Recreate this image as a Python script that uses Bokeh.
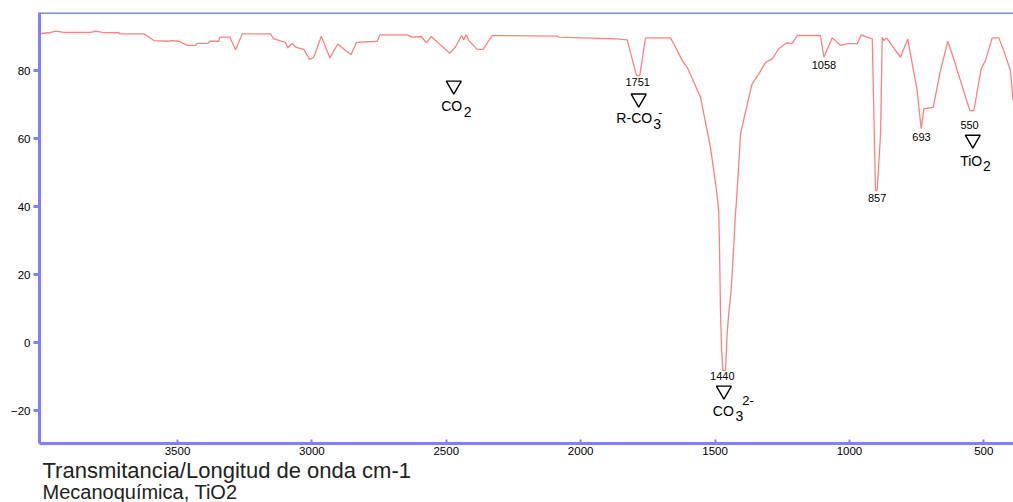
from bokeh.plotting import figure
from bokeh.models import Range1d, FixedTicker, Span, Title
from bokeh.core.properties import value
from bokeh.embed import file_html
from bokeh.resources import INLINE

# ---- data ----
wavenumber = [4016, 3979, 3954, 3923, 3824, 3805, 3780, 3718, 3715, 3625, 3588, 3538, 3520, 3495,
              3464, 3433, 3427, 3387, 3380, 3346, 3343, 3305, 3284, 3259, 3154, 3142, 3098, 3090,
              3073, 3061, 3030, 3008, 2993, 2965, 2933, 2918, 2903, 2875, 2854, 2834, 2757, 2747,
              2645, 2627, 2593, 2574, 2556, 2487, 2466, 2443, 2435, 2426, 2416, 2385, 2363, 2329,
              2087, 2081, 1864, 1827, 1792, 1780, 1759, 1666, 1647, 1622, 1604, 1579, 1554, 1542,
              1517, 1498, 1490, 1486, 1483, 1480, 1476, 1471, 1461, 1455, 1449, 1440, 1432, 1424,
              1420, 1405, 1380, 1362, 1337, 1312, 1287, 1263, 1234, 1213, 1194, 1108, 1095, 1064,
              1033, 1008, 971, 956, 915, 903, 897, 884, 878, 872, 862, 810, 783, 748, 733, 723,
              688, 664, 634, 612, 552, 537, 510, 494, 469, 444, 426, 401, 391]
transmittance = [90.8, 91.1, 91.6, 91.2, 91.2, 91.6, 91.2, 91.1, 90.8, 90.8, 88.8, 88.6, 88.8, 88.6,
                 87.4, 87.4, 88.0, 88.0, 88.6, 88.6, 89.8, 89.8, 86.1, 90.8, 90.8, 89.3, 88.3, 86.6,
                 88.0, 86.9, 86.2, 83.2, 83.9, 90.1, 83.7, 85.9, 87.8, 85.9, 84.7, 88.3, 88.6, 90.5,
                 90.5, 89.8, 90.0, 88.1, 90.0, 85.1, 86.9, 90.3, 89.0, 90.5, 88.8, 86.2, 86.2, 90.3,
                 90.1, 89.8, 89.3, 89.0, 78.5, 78.5, 89.6, 89.6, 86.9, 82.9, 81.0, 76.6, 72.1, 67.3,
                 57.4, 46.7, 41.8, 37.9, 26.2, 10.4, -1.4, -8.2, -8.2, 2.6, 8.5, 15.3, 26.2, 37.9,
                 41.8, 61.4, 70.2, 76.1, 79.0, 82.4, 83.4, 86.4, 88.1, 88.0, 90.3, 90.3, 83.9, 89.6,
                 87.4, 87.9, 87.9, 90.5, 89.3, 44.7, 44.7, 61.4, 89.8, 88.8, 89.6, 83.9, 89.3, 74.1,
                 62.9, 68.7, 69.2, 79.0, 88.6, 83.4, 68.2, 68.2, 80.5, 82.9, 89.6, 89.6, 85.9, 80.0, 71.2]

x_ticks = [500, 1000, 1500, 2000, 2500, 3000, 3500]
y_ticks = [-20, 0, 20, 40, 60, 80]

peak_numbers = ["1751", "1440", "1058", "857", "693", "550"]
title_lines = ["Transmitancia/Longitud de onda cm-1", "Mecanoquímica, TiO2"]

# annotation placement (data coordinates)
number_pos = {"1751": (1788, 76.5), "1440": (1473, -9.9), "1058": (1095, 81.5),
              "857": (897, 42.4), "693": (732, 60.4), "550": (553, 64.1)}
triangle_x = [2472, 1784, 1467, 541]
triangle_y = [75.6, 71.8, -14.1, 59.7]
# main formula text: (text, x_right, y_center)
formula_main = [("CO", 2441, 69.7), ("R-CO", 1734, 65.9), ("CO", 1430, -20.2), ("TiO", 506, 53.5)]
# sub/superscripts: (text, x_left, y_center, size)
formula_index = [("2", 2435, 67.9, "14px"), ("3", 1730, 64.4, "14px"), ("-", 1711, 67.6, "12px"),
                 ("3", 1424, -21.5, "14px"), ("2-", 1399, -17.1, "13px"), ("2", 503, 51.9, "14px")]

FONT = "Liberation Sans"
AXIS_BLUE = "#8080ff"

p = figure(width=1013, height=502, output_backend="svg", toolbar_location=None,
           x_range=Range1d(4013.5, 389.5), y_range=Range1d(-29.7, 97.06),
           min_border_left=39, min_border_right=0, min_border_top=12, min_border_bottom=59)
p.outline_line_color = None
p.grid.visible = False
p.background_fill_color = "white"
p.border_fill_color = "white"

p.line(wavenumber, transmittance, line_color="#ff8080", line_width=1.3)

p.scatter(triangle_x, triangle_y, marker="inverted_triangle", size=15,
          fill_color=None, line_color="black", line_width=1.4)

for name in peak_numbers:
    x, y = number_pos[name]
    p.text([x], [y], text=[name], text_font=value(FONT), text_font_size="11px",
           text_color="black", text_align="center", text_baseline="middle")

for t, x, y in formula_main:
    p.text([x], [y], text=[t], text_font=value(FONT), text_font_size="14px",
           text_color="black", text_align="right", text_baseline="middle")
for t, x, y, s in formula_index:
    p.text([x], [y], text=[t], text_font=value(FONT), text_font_size=s,
           text_color="black", text_align="left", text_baseline="middle")

# top border line
p.add_layout(Span(location=97.06, dimension="width", line_color=AXIS_BLUE, line_width=3))

for ax in (p.xaxis[0], p.yaxis[0]):
    ax.axis_line_color = AXIS_BLUE
    ax.axis_line_width = 3
    ax.major_tick_line_color = AXIS_BLUE
    ax.minor_tick_line_color = None
    ax.major_label_text_font = FONT
    ax.major_label_text_font_size = "11.5px"
    ax.major_label_text_color = "black"

p.xaxis.ticker = FixedTicker(ticks=x_ticks)
p.xaxis.major_tick_in = 4
p.xaxis.major_tick_out = 0
p.xaxis.major_tick_line_width = 2
p.xaxis.major_label_standoff = 3

p.yaxis.ticker = FixedTicker(ticks=y_ticks)
p.yaxis.major_tick_in = 0
p.yaxis.major_tick_out = 6
p.yaxis.major_tick_line_width = 3
p.yaxis.major_label_standoff = 3

p.add_layout(Title(text=title_lines[0], align="left", offset=3, standoff=-4,
                   text_font=FONT, text_font_size="22px", text_font_style="normal",
                   text_color="#222222", text_line_height=0.85), "below")
p.add_layout(Title(text=title_lines[1], align="left", offset=3, standoff=-4,
                   text_font=FONT, text_font_size="20px", text_font_style="normal",
                   text_color="#222222", text_line_height=0.8), "below")

open("out.html", "w").write(file_html(p, INLINE))
